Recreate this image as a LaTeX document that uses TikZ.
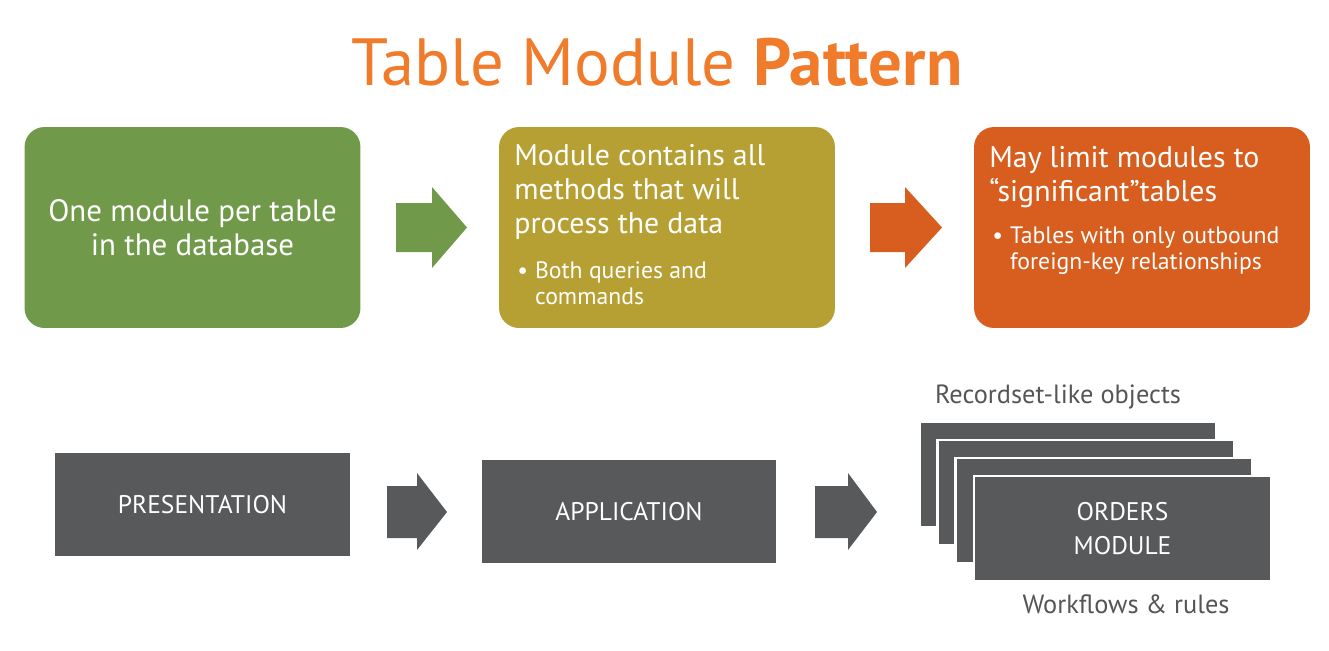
\documentclass[tikz,border=0pt]{standalone}
\usepackage{fontspec}
\setmainfont{PT Sans}
\usepackage{xcolor}
\usetikzlibrary{positioning,calc}
\definecolor{titleorange}{HTML}{F07B2B}
\definecolor{leafgreen}{HTML}{71994A}
\definecolor{olive}{HTML}{B6A034}
\definecolor{rust}{HTML}{D85E1F}
\definecolor{slate}{HTML}{58595B}
\definecolor{caption}{HTML}{555555}
\tikzset{
  topbox/.style={rounded corners=0.4cm,minimum width=6.72cm,minimum height=4.02cm,inner sep=0pt},
  layerbox/.style={fill=slate,draw=white,line width=1.2pt,minimum width=5.94cm,minimum height=2.1cm,
    text=white,font=\fontsize{14.5}{19}\selectfont,align=center,inner sep=0pt},
  headtext/.style={text=white,font=\fontsize{17}{19.3}\selectfont,align=left,inner sep=0pt,anchor=north west},
  bullettext/.style={text=white,font=\fontsize{13.5}{14.3}\selectfont,align=left,inner sep=0pt,anchor=north west},
  captext/.style={text=caption,font=\fontsize{15}{17}\selectfont,inner sep=0pt}
}
\newcommand{\blt}[1]{\begin{tabular}{@{}l@{\hspace{4pt}}l@{}}\textbullet & #1\end{tabular}}
\begin{document}
\begin{tikzpicture}[x=0.02cm,y=-0.02cm]
  \useasboundingbox (0,0) rectangle (1329,650);
  % title
  \node[text=titleorange,font=\fontsize{38}{42}\selectfont,inner sep=0pt] (title) at (657,62)
    {Table Module \textbf{Pattern}};
  % upper row
  \node[topbox,fill=leafgreen] (perTable) at (192.5,227.5) {};
  \node[text=white,font=\fontsize{17.6}{19.3}\selectfont,align=center,inner sep=0pt] (perTableTxt)
    at (perTable) {One module per table\\in the database};
  \node[topbox,fill=olive] (methods) at (667,227.5) {};
  \node[headtext] (methodsTxt) at (514,144) {Module contains all\\methods that will\\process the data};
  \node[bullettext] (methodsSub) at (517,261) {\blt{Both queries and\\ & commands}};
  \node[topbox,fill=rust] (significant) at (1142,227.5) {};
  \node[headtext] (significantTxt) at (989,146) {May limit modules to\\“significant”tables};
  \node[bullettext] (significantSub) at (992,226) {\blt{Tables with only outbound\\ & foreign-key relationships}};
  % block arrows
  \fill[leafgreen] (396,203) -- (432,203) -- (432,187) -- (467,227.5) -- (432,268) -- (432,252) -- (396,252) -- cycle;
  \fill[rust] (870,203) -- (905,203) -- (905,187) -- (942,227.5) -- (905,268) -- (905,252) -- (870,252) -- cycle;
  % lower row
  \node[layerbox] (presentation) at (202.5,504.5) {PRESENTATION};
  \node[layerbox] (application) at (629,511.5) {APPLICATION};
  \foreach \i/\dx in {1/0,2/18,3/36} {
    \node[layerbox] (record\i) at (1068+\dx,474.5+\dx) {};
  }
  \node[layerbox] (orders) at (1122.5,528.5) {ORDERS\\MODULE};
  \fill[slate] (387,486) -- (417,486) -- (417,473) -- (447,512) -- (417,550) -- (417,538) -- (387,538) -- cycle;
  \fill[slate] (815,486) -- (848,486) -- (848,473) -- (877,512) -- (848,550) -- (848,538) -- (815,538) -- cycle;
  \node[captext] (recordset) at (1058,397) {Recordset-like objects};
  \node[captext] (workflows) at (1126,604) {Workflows \& rules};
\end{tikzpicture}
\end{document}
